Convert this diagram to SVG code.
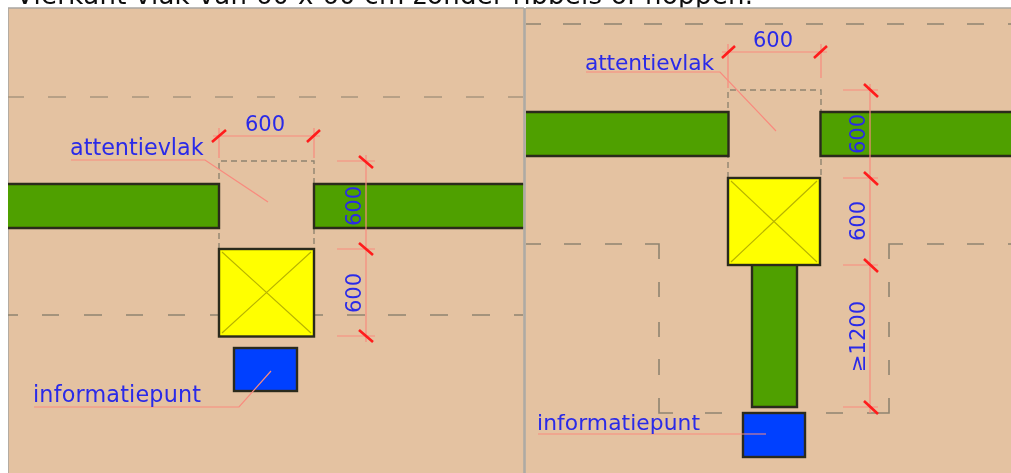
<svg xmlns="http://www.w3.org/2000/svg" width="1011" height="473" viewBox="0 0 1011 473">
<style>
text{font-family:"DejaVu Sans",sans-serif}
.lbl{fill:#2a2ae8;font-size:21px}
.name{fill:#2a2ae8;font-size:22.3px}
.name2{fill:#2a2ae8;font-size:21.8px}
.dash{fill:none;stroke:#a8957e;stroke-width:1.6}
.dark{fill:none;stroke:#8f8470;stroke-width:1.6}
.dash2{fill:none;stroke:#8f8470;stroke-width:1.4;stroke-dasharray:6 4}
.wall{fill:#50a000}
.edge{fill:none;stroke:#2a2a1a;stroke-width:2.4}
.dim{fill:none;stroke:#f98a7e;stroke-width:1.2}
.tick{stroke:#ff1a1a;stroke-width:2.6}
.box{stroke:#2a2a1a;stroke-width:2.4}
</style>
<defs><filter id="soft" x="0" y="0" width="100%" height="100%"><feGaussianBlur stdDeviation="0.5"/></filter></defs>
<rect width="1011" height="473" fill="#fff"/>
<g filter="url(#soft)">
<text x="16" y="3.500" font-size="26" fill="#111" textLength="737" lengthAdjust="spacing">Vierkant vlak van 60 x 60 cm zonder ribbels of noppen.</text>
<g id="panel-left">
<rect x="8" y="8" width="516" height="465" fill="#e4c2a1"/>
<path d="M8 473V8H524" fill="none" stroke="#a9a7a2" stroke-width="1.6"/>
<path class="dash" d="M8 97H24M48 97H66M90 97H108M132 97H149M173 97H191M215 97H233M257 97H275M299 97H316M341 97H358M383 97H400M424 97H442M466 97H484M508 97H523"/>
<path class="dark" d="M8 315H18M42 315H59M84 315H102M126 315H143M168 315H185M210 315H219M314 315H323M347 315H365M388 315H406M430 315H448M472 315H490M514 315H523"/>
<path class="dash2" d="M219 249V161H314V249"/>
<rect class="wall" x="8" y="184" width="211" height="44"/>
<rect class="wall" x="314" y="184" width="209.500" height="44"/>
<path class="edge" d="M8 184H219V228H8M523.500 184H314V228H523.500"/>
</g>
<g id="panel-right">
<rect x="524" y="8" width="487" height="465" fill="#e4c2a1"/>
<path d="M524.500 8V473" fill="none" stroke="#aeaaa4" stroke-width="2.6"/>
<path d="M526 8H1011" fill="none" stroke="#a9a7a2" stroke-width="1.6"/>
<path class="dark" d="M526 24H541M563 24H581M604 24H622M644 24H662M685 24H703M725 24H743M765 24H783M806 24H823M846 24H864M887 24H904M927 24H944M967 24H984M1008 24H1011"/>
<path class="dark" d="M526 244H541M564 244H581M605 244H622M645 244H659V259M659 282V297M659 322V337M659 359V375M659 398V413H673M705 413H722M826 413H843M867 413H889V398M889 375V360M889 337V322M889 297V282M889 259V244H903M927 244H944M967 244H984M1008 244H1011"/>
<path class="dash2" d="M728 178V90H821V178"/>
<rect class="wall" x="526" y="112" width="203" height="44"/>
<rect class="wall" x="821" y="112" width="190" height="44"/>
<path class="edge" d="M526 112H728.500V156H526M1011 112H820.500V156H1011"/>
</g>
<g id="vlak-left">
<rect class="box" x="219" y="249" width="95" height="87.500" fill="#ffff00"/>
<path d="M222 252L311 333M311 252L222 333" stroke="#b8b400" stroke-width="1.2"/>
</g>
<g id="vlak-right">
<rect class="wall" x="752" y="265" width="45" height="142"/>
<path class="edge" d="M752 265V407H797V265"/>
<rect class="box" x="728" y="178" width="92" height="87" fill="#ffff00"/>
<path d="M731 181L817 262M817 181L731 262" stroke="#b8b400" stroke-width="1.2"/>
</g>
<g id="info-left"><rect class="box" x="234" y="348" width="63" height="43" fill="#0040ff"/></g>
<g id="info-right"><rect class="box" x="743" y="413" width="62" height="44" fill="#0040ff"/></g>
<g id="connectors">
<path class="dim" d="M219 128V158M314 128V158M213 136H320M337 161H375M337 249H375M337 336H375M366 155V342"/>
<path class="dim" d="M71 160H205L268 202M34 407H239L271 371"/>
<path class="dim" d="M728 44V88M821 44V78M722 52H827M843 90H878M843 178H878M843 265H878M843 407H878M870 84V413"/>
<path class="dim" d="M586 72H720L776 131M538 434H766"/>
<path class="tick" d="M212 142L226 130M307 142L320 130M359 156L373 168M359 243L373 255M359 330L373 342"/>
<path class="tick" d="M722 58L735 46M814 58L827 46M864 84L878 97M864 172L878 185M864 259L878 272M864 401L878 414"/>
</g>
<g id="labels">
<text class="lbl" x="245" y="131">600</text>
<text class="name" x="70" y="155">attentievlak</text>
<text class="lbl" transform="translate(361 226) rotate(-90)">600</text>
<text class="lbl" transform="translate(361 313) rotate(-90)">600</text>
<text class="name" x="33" y="402" textLength="168">informatiepunt</text>
<text class="lbl" x="753" y="47">600</text>
<text class="name2" x="585" y="69.500" textLength="129">attentievlak</text>
<text class="lbl" transform="translate(865 154) rotate(-90)">600</text>
<text class="lbl" transform="translate(865 241) rotate(-90)">600</text>
<text class="lbl" transform="translate(865 372) rotate(-90)">≥1200</text>
<text class="name2" x="537" y="430" textLength="163">informatiepunt</text>
</g>
</g>
</svg>
